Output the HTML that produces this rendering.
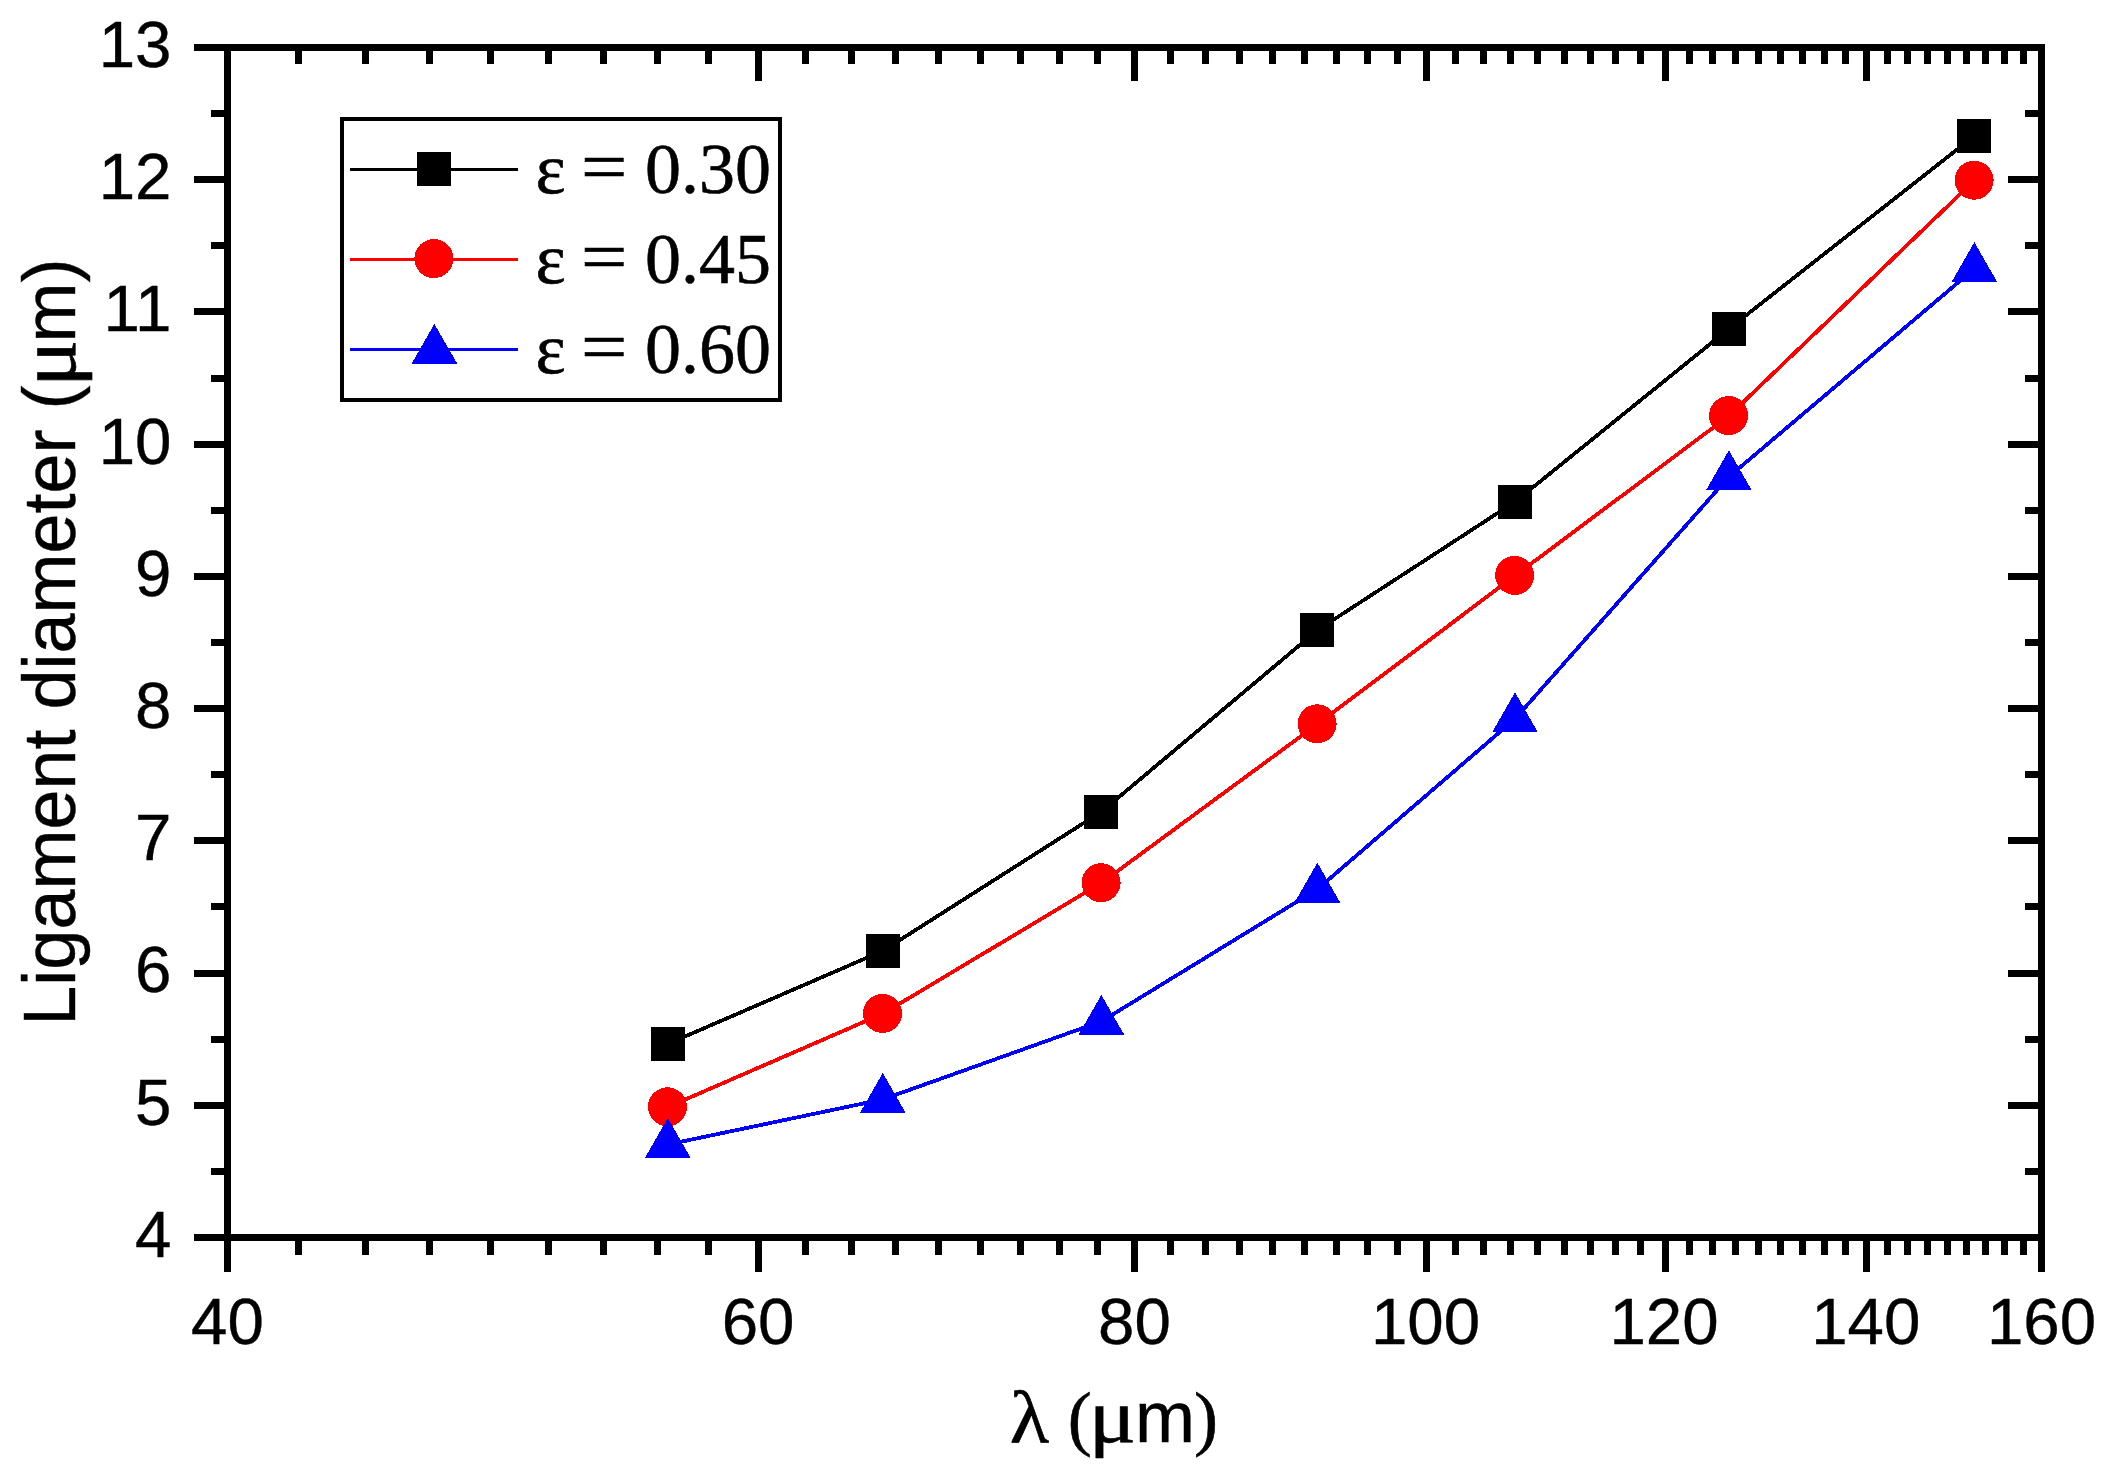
<!DOCTYPE html>
<html lang="en"><head><meta charset="utf-8"><title>Ligament diameter vs wavelength</title>
<style>html,body{margin:0;padding:0;background:#fff}body{width:2115px;height:1477px;overflow:hidden}svg{display:block}
.sans{font-family:"Liberation Sans",sans-serif}.serif{font-family:"Liberation Serif",serif}
text{fill:#000;stroke:#000;stroke-width:.4px}.serif,.serif text{stroke-width:.6px}</style></head><body>
<svg width="2115" height="1477" viewBox="0 0 2115 1477">
<rect width="2115" height="1477" fill="#fff"/>
<g fill="#000" shape-rendering="crispEdges">
<rect x="194" y="44" width="1851" height="7"/>
<rect x="194" y="1234" width="1851" height="7"/>
<rect x="224" y="44" width="7" height="1228"/>
<rect x="2038" y="44" width="7" height="1228"/>
<rect x="211" y="1168" width="13" height="7"/>
<rect x="2025" y="1168" width="13" height="7"/>
<rect x="194" y="1102" width="30" height="7"/>
<rect x="2008" y="1102" width="30" height="7"/>
<rect x="211" y="1036" width="13" height="7"/>
<rect x="2025" y="1036" width="13" height="7"/>
<rect x="194" y="970" width="30" height="7"/>
<rect x="2008" y="970" width="30" height="7"/>
<rect x="211" y="903" width="13" height="7"/>
<rect x="2025" y="903" width="13" height="7"/>
<rect x="194" y="837" width="30" height="7"/>
<rect x="2008" y="837" width="30" height="7"/>
<rect x="211" y="771" width="13" height="7"/>
<rect x="2025" y="771" width="13" height="7"/>
<rect x="194" y="705" width="30" height="7"/>
<rect x="2008" y="705" width="30" height="7"/>
<rect x="211" y="639" width="13" height="7"/>
<rect x="2025" y="639" width="13" height="7"/>
<rect x="194" y="573" width="30" height="7"/>
<rect x="2008" y="573" width="30" height="7"/>
<rect x="211" y="507" width="13" height="7"/>
<rect x="2025" y="507" width="13" height="7"/>
<rect x="194" y="441" width="30" height="7"/>
<rect x="2008" y="441" width="30" height="7"/>
<rect x="211" y="375" width="13" height="7"/>
<rect x="2025" y="375" width="13" height="7"/>
<rect x="194" y="308" width="30" height="7"/>
<rect x="2008" y="308" width="30" height="7"/>
<rect x="211" y="242" width="13" height="7"/>
<rect x="2025" y="242" width="13" height="7"/>
<rect x="194" y="176" width="30" height="7"/>
<rect x="2008" y="176" width="30" height="7"/>
<rect x="211" y="110" width="13" height="7"/>
<rect x="2025" y="110" width="13" height="7"/>
<rect x="295" y="1241" width="7" height="14"/>
<rect x="295" y="51" width="7" height="13"/>
<rect x="362" y="1241" width="7" height="14"/>
<rect x="362" y="51" width="7" height="13"/>
<rect x="426" y="1241" width="7" height="14"/>
<rect x="426" y="51" width="7" height="13"/>
<rect x="487" y="1241" width="7" height="14"/>
<rect x="487" y="51" width="7" height="13"/>
<rect x="545" y="1241" width="7" height="14"/>
<rect x="545" y="51" width="7" height="13"/>
<rect x="600" y="1241" width="7" height="14"/>
<rect x="600" y="51" width="7" height="13"/>
<rect x="654" y="1241" width="7" height="14"/>
<rect x="654" y="51" width="7" height="13"/>
<rect x="705" y="1241" width="7" height="14"/>
<rect x="705" y="51" width="7" height="13"/>
<rect x="755" y="1241" width="7" height="31"/>
<rect x="755" y="51" width="7" height="30"/>
<rect x="802" y="1241" width="7" height="14"/>
<rect x="802" y="51" width="7" height="13"/>
<rect x="848" y="1241" width="7" height="14"/>
<rect x="848" y="51" width="7" height="13"/>
<rect x="892" y="1241" width="7" height="14"/>
<rect x="892" y="51" width="7" height="13"/>
<rect x="935" y="1241" width="7" height="14"/>
<rect x="935" y="51" width="7" height="13"/>
<rect x="977" y="1241" width="7" height="14"/>
<rect x="977" y="51" width="7" height="13"/>
<rect x="1017" y="1241" width="7" height="14"/>
<rect x="1017" y="51" width="7" height="13"/>
<rect x="1056" y="1241" width="7" height="14"/>
<rect x="1056" y="51" width="7" height="13"/>
<rect x="1094" y="1241" width="7" height="14"/>
<rect x="1094" y="51" width="7" height="13"/>
<rect x="1131" y="1241" width="7" height="31"/>
<rect x="1131" y="51" width="7" height="30"/>
<rect x="1167" y="1241" width="7" height="14"/>
<rect x="1167" y="51" width="7" height="13"/>
<rect x="1202" y="1241" width="7" height="14"/>
<rect x="1202" y="51" width="7" height="13"/>
<rect x="1236" y="1241" width="7" height="14"/>
<rect x="1236" y="51" width="7" height="13"/>
<rect x="1269" y="1241" width="7" height="14"/>
<rect x="1269" y="51" width="7" height="13"/>
<rect x="1301" y="1241" width="7" height="14"/>
<rect x="1301" y="51" width="7" height="13"/>
<rect x="1333" y="1241" width="7" height="14"/>
<rect x="1333" y="51" width="7" height="13"/>
<rect x="1364" y="1241" width="7" height="14"/>
<rect x="1364" y="51" width="7" height="13"/>
<rect x="1394" y="1241" width="7" height="14"/>
<rect x="1394" y="51" width="7" height="13"/>
<rect x="1423" y="1241" width="7" height="31"/>
<rect x="1423" y="51" width="7" height="30"/>
<rect x="1452" y="1241" width="7" height="14"/>
<rect x="1452" y="51" width="7" height="13"/>
<rect x="1480" y="1241" width="7" height="14"/>
<rect x="1480" y="51" width="7" height="13"/>
<rect x="1507" y="1241" width="7" height="14"/>
<rect x="1507" y="51" width="7" height="13"/>
<rect x="1534" y="1241" width="7" height="14"/>
<rect x="1534" y="51" width="7" height="13"/>
<rect x="1561" y="1241" width="7" height="14"/>
<rect x="1561" y="51" width="7" height="13"/>
<rect x="1587" y="1241" width="7" height="14"/>
<rect x="1587" y="51" width="7" height="13"/>
<rect x="1612" y="1241" width="7" height="14"/>
<rect x="1612" y="51" width="7" height="13"/>
<rect x="1637" y="1241" width="7" height="14"/>
<rect x="1637" y="51" width="7" height="13"/>
<rect x="1662" y="1241" width="7" height="31"/>
<rect x="1662" y="51" width="7" height="30"/>
<rect x="1686" y="1241" width="7" height="14"/>
<rect x="1686" y="51" width="7" height="13"/>
<rect x="1709" y="1241" width="7" height="14"/>
<rect x="1709" y="51" width="7" height="13"/>
<rect x="1732" y="1241" width="7" height="14"/>
<rect x="1732" y="51" width="7" height="13"/>
<rect x="1755" y="1241" width="7" height="14"/>
<rect x="1755" y="51" width="7" height="13"/>
<rect x="1777" y="1241" width="7" height="14"/>
<rect x="1777" y="51" width="7" height="13"/>
<rect x="1799" y="1241" width="7" height="14"/>
<rect x="1799" y="51" width="7" height="13"/>
<rect x="1821" y="1241" width="7" height="14"/>
<rect x="1821" y="51" width="7" height="13"/>
<rect x="1842" y="1241" width="7" height="14"/>
<rect x="1842" y="51" width="7" height="13"/>
<rect x="1863" y="1241" width="7" height="31"/>
<rect x="1863" y="51" width="7" height="30"/>
<rect x="1884" y="1241" width="7" height="14"/>
<rect x="1884" y="51" width="7" height="13"/>
<rect x="1904" y="1241" width="7" height="14"/>
<rect x="1904" y="51" width="7" height="13"/>
<rect x="1924" y="1241" width="7" height="14"/>
<rect x="1924" y="51" width="7" height="13"/>
<rect x="1944" y="1241" width="7" height="14"/>
<rect x="1944" y="51" width="7" height="13"/>
<rect x="1963" y="1241" width="7" height="14"/>
<rect x="1963" y="51" width="7" height="13"/>
<rect x="1982" y="1241" width="7" height="14"/>
<rect x="1982" y="51" width="7" height="13"/>
<rect x="2001" y="1241" width="7" height="14"/>
<rect x="2001" y="51" width="7" height="13"/>
<rect x="2020" y="1241" width="7" height="14"/>
<rect x="2020" y="51" width="7" height="13"/>
</g>
<g class="sans" font-size="65.45">
<text x="171.5" y="1256.9" text-anchor="end">4</text>
<text x="171.5" y="1124.68" text-anchor="end">5</text>
<text x="171.5" y="992.456" text-anchor="end">6</text>
<text x="171.5" y="860.233" text-anchor="end">7</text>
<text x="171.5" y="728.011" text-anchor="end">8</text>
<text x="171.5" y="595.789" text-anchor="end">9</text>
<text x="171.5" y="463.567" text-anchor="end">10</text>
<text x="171.5" y="331.344" text-anchor="end">11</text>
<text x="171.5" y="199.122" text-anchor="end">12</text>
<text x="171.5" y="66.9" text-anchor="end">13</text>
<text x="227.5" y="1343.8" text-anchor="middle">40</text>
<text x="758.061" y="1343.8" text-anchor="middle">60</text>
<text x="1134.5" y="1343.8" text-anchor="middle">80</text>
<text x="1425.49" y="1343.8" text-anchor="middle">100</text>
<text x="1664.06" y="1343.8" text-anchor="middle">120</text>
<text x="1865.77" y="1343.8" text-anchor="middle">140</text>
<text x="2041.5" y="1343.8" text-anchor="middle">160</text>
</g>
<g class="sans" font-size="72" transform="translate(75,1025.7) rotate(-90) scale(1,1.035)">
<text x="0" y="0" xml:space="preserve">Ligament diameter (</text>
<text class="serif" transform="translate(638.6,0) scale(1.226,1.07)">μ</text>
<text x="683.2" y="0">m)</text>
</g>
<g font-size="72">
<text class="serif" transform="translate(1009.8,1441.6) scale(1.126,1.04)">λ</text>
<text class="serif" x="1067.8" y="1441.6">(</text>
<text class="serif" transform="translate(1088.8,1441.6) scale(1.226,1.07)">μ</text>
<text class="sans" x="1135.1" y="1441.6">m</text>
<text class="serif" x="1193.9" y="1441.6">)</text>
</g>
<g shape-rendering="crispEdges">
<polyline fill="none" stroke="#000" stroke-width="3.8" points="667.8,1043.9 882.8,950.9 1101.4,811.8 1317.4,630.2 1515.0,501.8 1728.9,328.8 1974.4,135.9"/>
<rect x="651" y="1027" width="34" height="34" fill="#000"/>
<rect x="866" y="934" width="34" height="34" fill="#000"/>
<rect x="1084" y="795" width="34" height="34" fill="#000"/>
<rect x="1300" y="613" width="34" height="34" fill="#000"/>
<rect x="1498" y="485" width="34" height="34" fill="#000"/>
<rect x="1712" y="312" width="34" height="34" fill="#000"/>
<rect x="1957" y="119" width="34" height="34" fill="#000"/>
<polyline fill="none" stroke="#f00" stroke-width="3.8" points="667.8,1107.1 882.8,1013.7 1101.4,883.0 1317.4,724.1 1515.0,575.7 1728.9,415.9 1974.4,180.5"/>
<circle cx="667.5" cy="1106.8" r="19.5" fill="#f00"/>
<circle cx="882.5" cy="1013.4" r="19.5" fill="#f00"/>
<circle cx="1101.1" cy="882.7" r="19.5" fill="#f00"/>
<circle cx="1317.1" cy="723.8" r="19.5" fill="#f00"/>
<circle cx="1514.7" cy="575.4" r="19.5" fill="#f00"/>
<circle cx="1728.6" cy="415.6" r="19.5" fill="#f00"/>
<circle cx="1974.1" cy="180.2" r="19.5" fill="#f00"/>
<polyline fill="none" stroke="#00f" stroke-width="3.8" points="667.8,1144.5 882.8,1099.4 1101.4,1021.4 1317.4,889.2 1515.0,718.9 1728.9,476.8 1974.4,268.7"/>
<polygon points="667.8,1118.0 690.6,1157.8 645.0,1157.8" fill="#00f"/>
<polygon points="882.8,1072.9 905.6,1112.7 860.0,1112.7" fill="#00f"/>
<polygon points="1101.4,994.9 1124.2,1034.7 1078.6,1034.7" fill="#00f"/>
<polygon points="1317.4,862.7 1340.2,902.5 1294.6,902.5" fill="#00f"/>
<polygon points="1515.0,692.4 1537.8,732.1 1492.2,732.1" fill="#00f"/>
<polygon points="1728.9,450.3 1751.7,490.1 1706.1,490.1" fill="#00f"/>
<polygon points="1974.4,242.2 1997.2,281.9 1951.6,281.9" fill="#00f"/>
<rect x="342" y="119" width="438" height="281" fill="#fff" stroke="#000" stroke-width="4"/>
<rect x="350" y="168" width="168" height="3" fill="#000"/>
<rect x="350" y="258" width="168" height="3" fill="#f00"/>
<rect x="350" y="348" width="168" height="3" fill="#00f"/>
<rect x="417" y="152" width="34" height="34" fill="#000"/>
<circle cx="433.9" cy="258.6" r="19.5" fill="#f00"/>
<polygon points="434.4,323.9 457.2,363.6 411.6,363.6" fill="#00f"/>
</g>
<g class="serif" font-size="72">
<text x="535.5" y="193">ε</text><text transform="translate(580.9,190.8) scale(1.14,1)">=</text><text x="645.1" y="193">0.30</text>
<text x="535.5" y="283">ε</text><text transform="translate(580.9,280.8) scale(1.14,1)">=</text><text x="645.1" y="283">0.45</text>
<text x="535.5" y="373">ε</text><text transform="translate(580.9,370.8) scale(1.14,1)">=</text><text x="645.1" y="373">0.60</text>
</g>
</svg></body></html>
